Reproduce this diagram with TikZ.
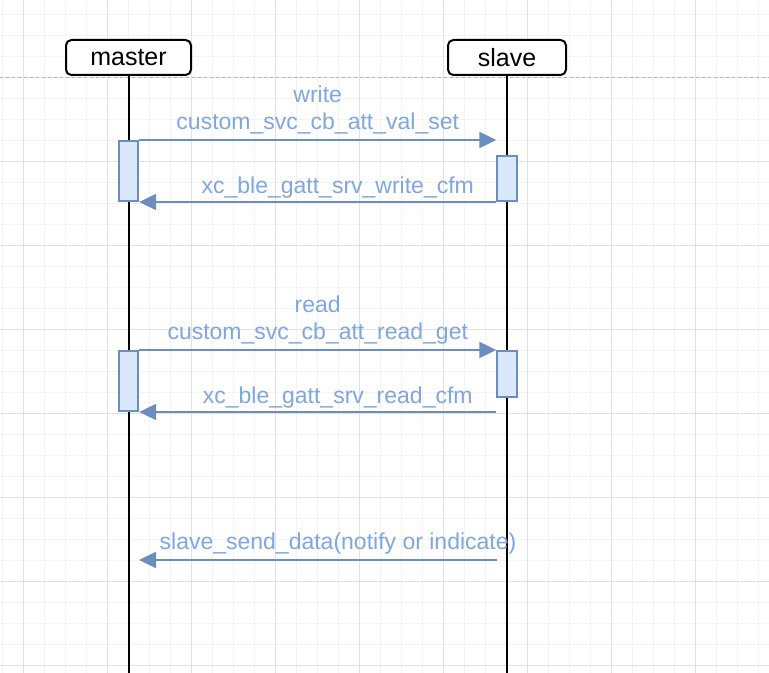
\documentclass[tikz,border=0pt]{standalone}
\usepackage{fontspec}
\setmainfont{Liberation Sans}
\usetikzlibrary{arrows.meta, positioning}
\definecolor{msgline}{HTML}{6C8EBF}
\definecolor{msgtext}{HTML}{7EA6E0}
\definecolor{actfill}{HTML}{DAE8FC}
\definecolor{gridminor}{HTML}{F3F3F3}
\definecolor{gridmajor}{HTML}{E2E2E2}
\tikzset{
  lifebox/.style={draw=black, line width=1.5pt, rounded corners=4pt, fill=white, minimum width=93.75pt, minimum height=26.25pt, inner sep=0pt, font=\fontsize{18.75pt}{22pt}\selectfont},
  actbox/.style={draw=msgline, line width=1.5pt, fill=actfill, minimum width=14.5pt, inner sep=0pt},
  msg/.style={draw=msgline, line width=1.5pt, -{Triangle[length=12.75pt, width=12pt]}},
  msglabel/.style={text=msgtext, align=center, inner sep=0pt, text depth=0pt, font=\fontsize{17.25pt}{20.25pt}\selectfont},
  lifeline/.style={draw=black, line width=1.5pt}
}
\begin{document}
\begin{tikzpicture}[x=0.75pt, y=-0.75pt]
  \useasboundingbox (0,0) rectangle (769,673);
  \foreach \i in {0,...,36} \draw[gridminor, line width=0.75pt] (2.3+21*\i,0) -- (2.3+21*\i,673);
  \foreach \i in {0,...,31} \draw[gridminor, line width=0.75pt] (0,14.3+21*\i) -- (769,14.3+21*\i);
  \foreach \i in {0,...,8} \draw[gridmajor, line width=0.75pt] (23.3+84*\i,0) -- (23.3+84*\i,673);
  \foreach \i in {0,...,7} \draw[gridmajor, line width=0.75pt] (0,77.3+84*\i) -- (769,77.3+84*\i);
  \draw[black!30, line width=0.75pt, dash pattern=on 2.25pt off 2.25pt] (0,77.3) -- (769,77.3);

  \node[lifebox] (master) at (128.5,57.5) {master};
  \node[lifebox, minimum width=88.5pt] (slave) at (507,57.5) {slave};
  \coordinate (masterend) at (128.5,673);
  \coordinate (slaveend) at (507,673);
  \draw[lifeline] (master) -- (masterend);
  \draw[lifeline] (slave) -- (slaveend);

  \node[actbox, minimum height=45pt] (writem) at (128.5,171) {};
  \node[actbox, minimum height=33.75pt] (writes) at (507,178.5) {};
  \node[actbox, minimum height=45pt] (readm) at (128.5,381) {};
  \node[actbox, minimum height=34.5pt] (reads) at (507,374) {};
  \coordinate (notifys) at (497,560);
  \coordinate (notifym) at (139,560);

  \draw[msg] (writem.north east) -- (writem.north east -| writes.west)
    node[msglabel, midway, above=7.1pt] {write\\custom\_svc\_cb\_att\_val\_set};
  \draw[msg] (writes.south west) -- (writem.south east)
    node[msglabel, midway, above=5.6pt, xshift=15pt] {xc\_ble\_gatt\_srv\_write\_cfm};
  \draw[msg] (readm.north east) -- (reads.north west)
    node[msglabel, midway, above=7.1pt] {read\\custom\_svc\_cb\_att\_read\_get};
  \draw[msg] (readm.south east -| reads.west) -- (readm.south east)
    node[msglabel, midway, above=5.6pt, xshift=15pt] {xc\_ble\_gatt\_srv\_read\_cfm};
  \draw[msg] (notifys) -- (notifym)
    node[msglabel, midway, above=7.1pt, xshift=15pt] {slave\_send\_data(notify or indicate)};
\end{tikzpicture}
\end{document}
